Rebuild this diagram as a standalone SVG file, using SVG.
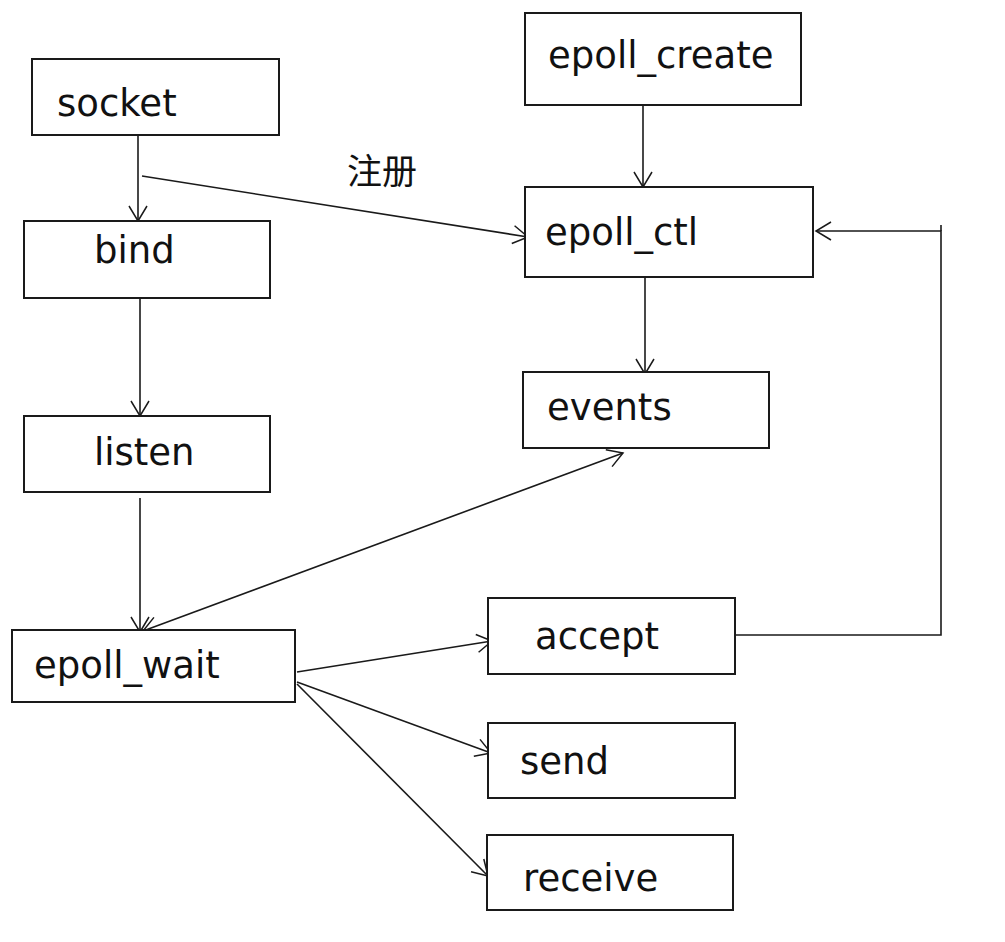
<svg xmlns="http://www.w3.org/2000/svg" width="1005" height="942" viewBox="0 0 1005 942">
<style>
.box{fill:#fff;stroke:#1a1a1a;stroke-width:2}
.lbl{font-family:"DejaVu Sans",sans-serif;font-size:37px;fill:#111}
.cjk{font-family:"Noto Sans CJK SC",sans-serif;font-size:35px;fill:#111}
.ln{fill:none;stroke:#1a1a1a;stroke-width:1.6}
</style>
<defs>
<marker id="ah" markerUnits="userSpaceOnUse" markerWidth="22" markerHeight="24" refX="18" refY="11" orient="auto-start-reverse" viewBox="0 0 22 22">
<path d="M3,2 L18,11 L3,20" fill="none" stroke="#1a1a1a" stroke-width="1.5"/>
</marker>
</defs>
<rect width="1005" height="942" fill="#fff"/>
<g id="connectors">
<line class="ln" x1="138" y1="135" x2="138" y2="221" marker-end="url(#ah)"/>
<line class="ln" x1="142" y1="176" x2="528" y2="237" marker-end="url(#ah)"/>
<line class="ln" x1="140" y1="298" x2="140" y2="416" marker-end="url(#ah)"/>
<line class="ln" x1="140" y1="498" x2="140" y2="632" marker-end="url(#ah)"/>
<line class="ln" x1="143" y1="631" x2="623" y2="453" marker-start="url(#ah)" marker-end="url(#ah)"/>
<line class="ln" x1="643" y1="105" x2="643" y2="187" marker-end="url(#ah)"/>
<line class="ln" x1="645" y1="277" x2="645" y2="374" marker-end="url(#ah)"/>
<polyline class="ln" points="735,635 941,635 941,231 816,231" marker-end="url(#ah)"/>
<line class="ln" x1="941" y1="225" x2="941" y2="231"/>
<line class="ln" x1="297" y1="672" x2="492" y2="641" marker-end="url(#ah)"/>
<line class="ln" x1="297" y1="682" x2="491" y2="753" marker-end="url(#ah)"/>
<line class="ln" x1="297" y1="684" x2="488" y2="876" marker-end="url(#ah)"/>
<text class="cjk" x="347" y="184">注册</text>
</g>
<g id="socket"><rect class="box" x="32" y="59" width="247" height="76"/><text class="lbl" x="57" y="116">socket</text></g>
<g id="bind"><rect class="box" x="24" y="221" width="246" height="77"/><text class="lbl" x="94" y="263">bind</text></g>
<g id="listen"><rect class="box" x="24" y="416" width="246" height="76"/><text class="lbl" x="94" y="465">listen</text></g>
<g id="epoll_wait"><rect class="box" x="12" y="630" width="283" height="72"/><text class="lbl" x="34" y="678">epoll_wait</text></g>
<g id="epoll_create"><rect class="box" x="525" y="13" width="276" height="92"/><text class="lbl" x="548" y="68">epoll_create</text></g>
<g id="epoll_ctl"><rect class="box" x="525" y="187" width="288" height="90"/><text class="lbl" x="545" y="245">epoll_ctl</text></g>
<g id="events"><rect class="box" x="523" y="372" width="246" height="76"/><text class="lbl" x="547" y="420">events</text></g>
<g id="accept"><rect class="box" x="488" y="598" width="247" height="76"/><text class="lbl" x="535" y="649">accept</text></g>
<g id="send"><rect class="box" x="488" y="723" width="247" height="75"/><text class="lbl" x="520" y="774">send</text></g>
<g id="receive"><rect class="box" x="487" y="835" width="246" height="75"/><text class="lbl" x="523" y="891">receive</text></g>
</svg>
